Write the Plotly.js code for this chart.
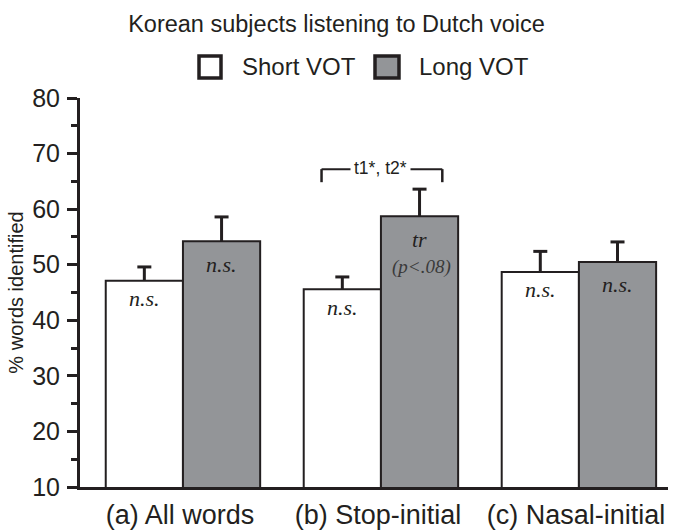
<!DOCTYPE html>
<html>
<head>
<meta charset="utf-8">
<script src="https://cdn.plot.ly/plotly-3.0.1.min.js"></script>
<style>html,body{margin:0;padding:0;background:#fff;}#chart{width:673px;height:532px;}</style>
</head>
<body>
<div id="chart"></div>
<script>
const categories = ["(a) All words", "(b) Stop-initial", "(c) Nasal-initial"];
const shortVOT = [47.1, 45.6, 48.7];
const shortErr = [2.5, 2.2, 3.7];
const longVOT = [54.2, 58.7, 50.5];
const longErr = [4.4, 4.9, 3.6];
const shortLabels = ["n.s.", "n.s.", "n.s."];
const longLabels = ["n.s.", "tr", "n.s."];
const seriesNames = ["Short VOT", "Long VOT"];
const chartTitle = "Korean subjects listening to Dutch voice";
const yTitle = "% words identified";
const bracketLabel = "t1*, t2*";
const trNote = "(p<.08)";

const ink = "#231f20";
const fills = ["#ffffff", "#939598"];

function barTrace(name, vals, fill, grp) {
  return {
    type: "bar", name: name, x: categories, y: vals, offsetgroup: grp,
    marker: {color: fill, line: {color: ink, width: 2}},
    showlegend: false, hoverinfo: "skip"
  };
}
function errTrace(name, vals, errs, grp) {
  return {
    type: "scatter", mode: "markers", name: name + " error", x: categories,
    y: vals.map((v, i) => v + errs[i]), offsetgroup: grp,
    marker: {symbol: "line-ew", size: 10, color: ink, line: {color: ink, width: 3}},
    error_y: {type: "data", symmetric: false, array: errs.map(() => 0), arrayminus: errs, color: ink, thickness: 3, width: 0},
    showlegend: false, hoverinfo: "skip", cliponaxis: false
  };
}

const traces = [
  barTrace(seriesNames[0], shortVOT, fills[0], "s"),
  barTrace(seriesNames[1], longVOT, fills[1], "l"),
  errTrace(seriesNames[0], shortVOT, shortErr, "s"),
  errTrace(seriesNames[1], longVOT, longErr, "l")
];

const off = 0.195;
const annFont = {family: "Liberation Serif, Times New Roman, serif", size: 22, color: ink, style: "italic"};
const annotations = [];
categories.forEach((c, i) => {
  annotations.push({x: i - off, y: shortVOT[i], xref: "x", yref: "y", text: shortLabels[i], showarrow: false, yanchor: "middle", yshift: -18, font: annFont});
  annotations.push({x: i + off, y: longVOT[i], xref: "x", yref: "y", text: longLabels[i], showarrow: false, yanchor: "middle", yshift: -23, font: annFont});
});
annotations.push({x: 1 + off, y: longVOT[1], xref: "x", yref: "y", text: trNote, showarrow: false, yanchor: "middle", yshift: -51, xshift: 2,
  font: Object.assign({}, annFont, {size: 19, color: "#3a3a3a"})});

// bracket
const bracketY = 67.2, bracketLow = 64.85;
annotations.push({x: 1, y: bracketY, xref: "x", yref: "y", text: bracketLabel, showarrow: false, bgcolor: "#ffffff", borderpad: 3, yshift: 1,
  font: {family: "Liberation Sans, Arial, sans-serif", size: 17.5, color: ink}});

const shapes = [
  {type: "line", xref: "x", yref: "y", x0: 1 - 0.30, x1: 1 + 0.31, y0: bracketY, y1: bracketY, line: {color: ink, width: 2}},
  {type: "line", xref: "x", yref: "y", x0: 1 - 0.30, x1: 1 - 0.30, y0: bracketY, y1: bracketLow, line: {color: ink, width: 2.5}},
  {type: "line", xref: "x", yref: "y", x0: 1 + 0.31, x1: 1 + 0.31, y0: bracketY, y1: bracketLow, line: {color: ink, width: 2.5}}
];

// custom legend (large boxes)
const legBoxes = [[0.2024, 0.2398], [0.5017, 0.5425]];
const legTextX = [0.272, 0.573];
seriesNames.forEach((n, i) => {
  shapes.push({type: "rect", xref: "paper", yref: "paper", x0: legBoxes[i][0], x1: legBoxes[i][1], y0: 1.0514, y1: 1.108,
    fillcolor: fills[i], line: {color: ink, width: 3.5}});
  annotations.push({xref: "paper", yref: "paper", x: legTextX[i], y: 1.0797, xanchor: "left", yanchor: "middle", text: n, showarrow: false,
    font: {family: "Liberation Sans, Arial, sans-serif", size: 24, color: ink}});
});

const layout = {
  width: 673, height: 532,
  margin: {l: 80, r: 5, t: 98, b: 45},
  paper_bgcolor: "#ffffff", plot_bgcolor: "#ffffff",
  font: {family: "Liberation Sans, Arial, sans-serif", color: ink},
  title: {text: chartTitle, x: 0.5, xanchor: "center", xref: "container", y: 0.955, yanchor: "middle", font: {size: 23.5, color: ink}},
  showlegend: false,
  barmode: "group", bargap: 0.22, bargroupgap: 0,
  scattermode: "group", scattergap: 0.22,
  xaxis: {
    type: "category", range: [-0.52, 2.45], showgrid: false, zeroline: false,
    showline: true, linecolor: ink, linewidth: 3, ticks: "", tickfont: {size: 27, color: ink}, ticklabelstandoff: 2, ticklabelshift: -3, fixedrange: true
  },
  yaxis: {
    range: [10, 80], dtick: 10, tick0: 10, showgrid: false, zeroline: false,
    showline: true, linecolor: ink, linewidth: 3, ticks: "outside", ticklen: 10, tickwidth: 3, tickcolor: ink,
    minor: {dtick: 5, tick0: 10, ticks: "outside", ticklen: 6, tickwidth: 3, tickcolor: ink, showgrid: false},
    tickfont: {size: 25, color: ink}, ticklabelstandoff: 2,
    title: {text: yTitle, font: {size: 20, color: ink}, standoff: 4}, fixedrange: true
  },
  annotations: annotations,
  shapes: shapes
};

Plotly.newPlot("chart", traces, layout, {displayModeBar: false, staticPlot: true});
</script>
</body>
</html>
